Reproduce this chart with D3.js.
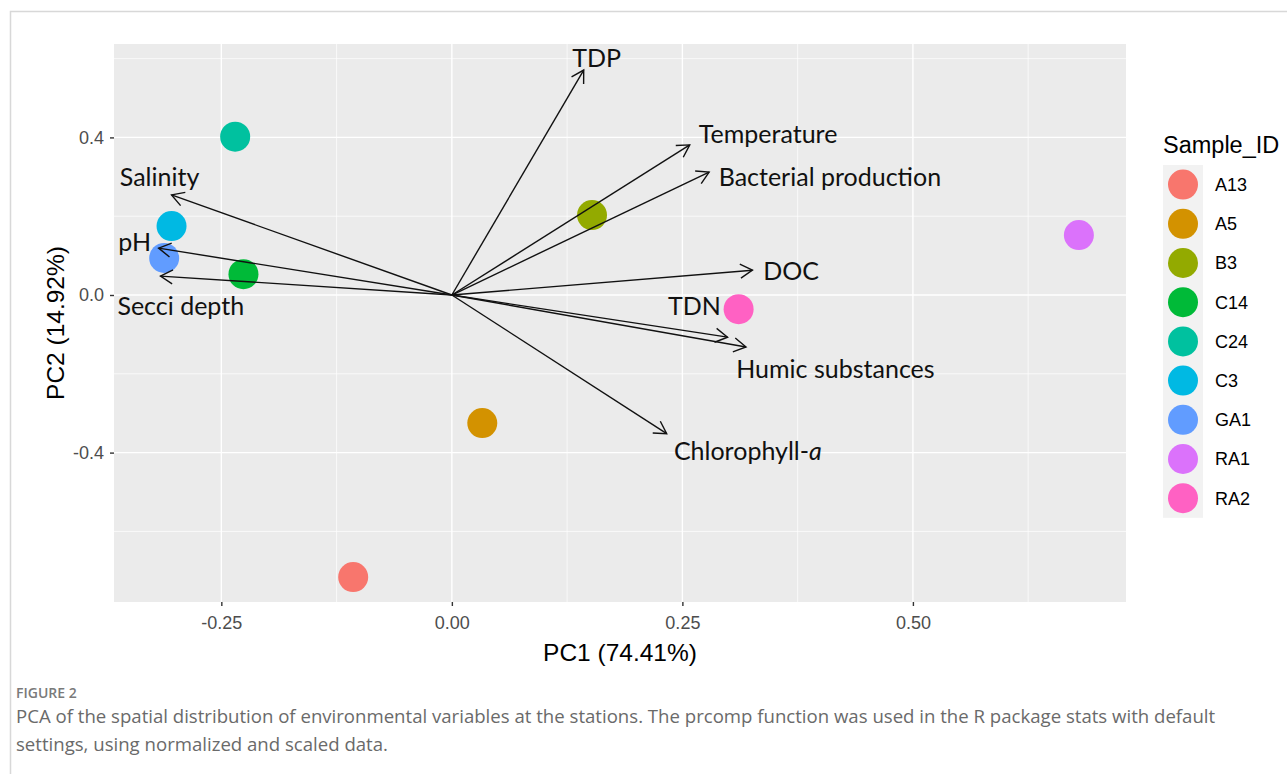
<!DOCTYPE html>
<html>
<head>
<meta charset="utf-8">
<script src="https://cdn.jsdelivr.net/npm/d3@7"></script>
<style>
  body { margin: 0; background: #fff; }
  svg { display: block; }
</style>
</head>
<body>
<div id="chart"></div>
<script>
// samples (scores)
var samples = ["A13", "A5", "B3", "C14", "C24", "C3", "GA1", "RA1", "RA2"];
var pc1 = [-0.107, 0.033, 0.152, -0.226, -0.235, -0.304, -0.312, 0.680, 0.311];
var pc2 = [-0.716, -0.325, 0.203, 0.053, 0.402, 0.175, 0.094, 0.152, -0.036];
var sampleColors = ["#F8766D", "#D39200", "#93AA00", "#00BA38", "#00C19F", "#00B9E3", "#619CFF", "#DB72FB", "#FF61C3"];

// variables (loadings) + where the labels were annotated
var variables = ["TDP", "Temperature", "Bacterial production", "DOC", "TDN", "Humic substances", "Chlorophyll-a", "Salinity", "pH", "Secci depth"];
var loadX = [0.143, 0.258, 0.279, 0.326, 0.299, 0.319, 0.233, -0.304, -0.318, -0.316];
var loadY = [0.571, 0.381, 0.312, 0.063, -0.107, -0.132, -0.352, 0.254, 0.119, 0.048];
var labelX = [0.157, 0.343, 0.410, 0.368, 0.263, 0.416, 0.321, -0.317, -0.344, -0.294];
var labelY = [0.602, 0.409, 0.299, 0.061, -0.028, -0.188, -0.396, 0.299, 0.135, -0.028];

var xTicks = [-0.25, 0, 0.25, 0.5];
var xTickLabels = ["-0.25", "0.00", "0.25", "0.50"];
var yTicks = [-0.4, 0, 0.4];
var yTickLabels = ["-0.4", "0.0", "0.4"];

var W = 1287, H = 774;
var svg = d3.select("#chart").append("svg")
    .attr("width", W)
    .attr("height", H);

// page frame
svg.append("path")
    .attr("d", "M10.5," + H + " V11.5 H" + W)
    .attr("fill", "none")
    .attr("stroke", "#d8d8d8")
    .attr("stroke-width", 1.5);

var panel = { left: 114, right: 1126, top: 44, bottom: 602 };

var x = d3.scaleLinear()
    .domain([-0.3664, 0.7311])
    .range([panel.left, panel.right]);
var y = d3.scaleLinear()
    .domain([-0.7792, 0.6371])
    .range([panel.bottom, panel.top]);

svg.append("rect")
    .attr("x", panel.left)
    .attr("y", panel.top)
    .attr("width", panel.right - panel.left)
    .attr("height", panel.bottom - panel.top)
    .attr("fill", "#ebebeb");

// minor grid
var xMinor = [-0.125, 0.125, 0.375, 0.625];
var yMinor = [-0.6, -0.2, 0.2, 0.6];
xMinor.forEach(function (v) {
    svg.append("line")
        .attr("x1", x(v)).attr("x2", x(v))
        .attr("y1", panel.top).attr("y2", panel.bottom)
        .attr("stroke", "#fff").attr("stroke-width", 0.7);
});
yMinor.forEach(function (v) {
    svg.append("line")
        .attr("x1", panel.left).attr("x2", panel.right)
        .attr("y1", y(v)).attr("y2", y(v))
        .attr("stroke", "#fff").attr("stroke-width", 0.7);
});
// major grid
xTicks.forEach(function (v) {
    svg.append("line")
        .attr("x1", x(v)).attr("x2", x(v))
        .attr("y1", panel.top).attr("y2", panel.bottom)
        .attr("stroke", "#fff").attr("stroke-width", 1.4);
});
yTicks.forEach(function (v) {
    svg.append("line")
        .attr("x1", panel.left).attr("x2", panel.right)
        .attr("y1", y(v)).attr("y2", y(v))
        .attr("stroke", "#fff").attr("stroke-width", 1.4);
});

// axes
var xAxis = d3.axisBottom(x)
    .tickValues(xTicks)
    .tickFormat(function (d, i) { return xTickLabels[i]; })
    .tickSize(4)
    .tickPadding(10);
var gx = svg.append("g")
    .attr("transform", "translate(0," + panel.bottom + ")")
    .call(xAxis);
gx.select(".domain").remove();
gx.selectAll("line").attr("stroke", "#333").attr("stroke-width", 1.4);
gx.selectAll("text")
    .attr("fill", "#4d4d4d")
    .style("font-family", "Liberation Sans, Arial, sans-serif")
    .style("font-size", "18px");

var yAxis = d3.axisLeft(y)
    .tickValues(yTicks)
    .tickFormat(function (d, i) { return yTickLabels[i]; })
    .tickSize(4)
    .tickPadding(6);
var gy = svg.append("g")
    .attr("transform", "translate(" + panel.left + ",0)")
    .call(yAxis);
gy.select(".domain").remove();
gy.selectAll("line").attr("stroke", "#333").attr("stroke-width", 1.4);
gy.selectAll("text")
    .attr("fill", "#4d4d4d")
    .style("font-family", "Liberation Sans, Arial, sans-serif")
    .style("font-size", "18px");

svg.append("text")
    .attr("x", (panel.left + panel.right) / 2)
    .attr("y", 661)
    .attr("text-anchor", "middle")
    .style("font-family", "Liberation Sans, Arial, sans-serif")
    .style("font-size", "24.5px")
    .text("PC1 (74.41%)");

svg.append("text")
    .attr("transform", "translate(64," + ((panel.top + panel.bottom) / 2) + ") rotate(-90)")
    .attr("text-anchor", "middle")
    .style("font-family", "Liberation Sans, Arial, sans-serif")
    .style("font-size", "24.5px")
    .text("PC2 (14.92%)");

// sample points
samples.forEach(function (s, i) {
    svg.append("circle")
        .attr("cx", x(pc1[i]))
        .attr("cy", y(pc2[i]))
        .attr("r", 15)
        .attr("fill", sampleColors[i]);
});

// loading arrows (open heads)
var headLen = 14, headAng = Math.PI / 6;
variables.forEach(function (v, i) {
    var x0 = x(0), y0 = y(0), x1 = x(loadX[i]), y1 = y(loadY[i]);
    var a = Math.atan2(y1 - y0, x1 - x0);
    var h1 = [x1 - headLen * Math.cos(a - headAng), y1 - headLen * Math.sin(a - headAng)];
    var h2 = [x1 - headLen * Math.cos(a + headAng), y1 - headLen * Math.sin(a + headAng)];
    svg.append("line")
        .attr("x1", x0).attr("y1", y0)
        .attr("x2", x1).attr("y2", y1)
        .attr("stroke", "#111").attr("stroke-width", 1.4);
    svg.append("path")
        .attr("d", "M" + h1 + " L" + x1 + "," + y1 + " L" + h2)
        .attr("fill", "none")
        .attr("stroke", "#111").attr("stroke-width", 1.4);
});

// variable labels
variables.forEach(function (v, i) {
    var t = svg.append("text")
        .attr("x", x(labelX[i]))
        .attr("y", y(labelY[i]))
        .attr("text-anchor", "middle")
        .attr("dy", "0.35em")
        .style("font-family", "Lato, 'Open Sans', sans-serif")
        .style("font-size", "25px")
        .attr("fill", "#111");
    if (v === "Chlorophyll-a") {
        t.append("tspan").text("Chlorophyll-");
        t.append("tspan").style("font-style", "italic").text("a");
    } else {
        t.text(v);
    }
});

// legend
var legX = 1163, legY = 165, keyH = 39.2;
svg.append("text")
    .attr("x", legX)
    .attr("y", 153)
    .style("font-family", "Liberation Sans, Arial, sans-serif")
    .style("font-size", "23.5px")
    .text("Sample_ID");
svg.append("rect")
    .attr("x", legX).attr("y", legY)
    .attr("width", 40).attr("height", keyH * samples.length)
    .attr("fill", "#f2f2f2");
samples.forEach(function (s, i) {
    var cy = legY + keyH * i + keyH / 2;
    svg.append("circle")
        .attr("cx", legX + 20).attr("cy", cy)
        .attr("r", 15)
        .attr("fill", sampleColors[i]);
    svg.append("text")
        .attr("x", legX + 52).attr("y", cy)
        .attr("dy", "0.35em")
        .style("font-family", "Liberation Sans, Arial, sans-serif")
        .style("font-size", "18px")
        .text(s);
});

// caption
svg.append("text")
    .attr("x", 16).attr("y", 698)
    .attr("fill", "#7a7a7a")
    .style("font-family", "'Open Sans', sans-serif")
    .style("font-size", "14px")
    .style("font-weight", "600")
    .text("FIGURE 2");
var capLines = [
    "PCA of the spatial distribution of environmental variables at the stations. The prcomp function was used in the R package stats with default",
    "settings, using normalized and scaled data."
];
capLines.forEach(function (l, i) {
    svg.append("text")
        .attr("x", 16).attr("y", 723 + i * 28)
        .attr("fill", "#6a6a6a")
        .style("font-family", "'Open Sans', sans-serif")
        .style("font-size", "18.6px")
        .text(l);
});
</script>
</body>
</html>
